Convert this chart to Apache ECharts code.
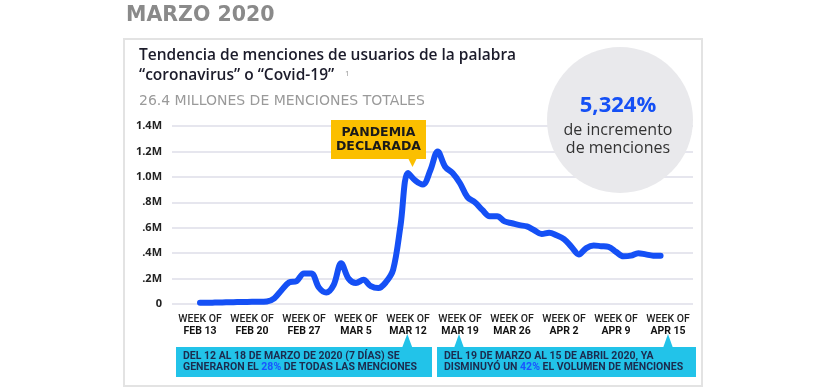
<!DOCTYPE html>
<html>
<head>
<meta charset="utf-8">
<script src="https://cdn.jsdelivr.net/npm/echarts@6/dist/echarts.min.js"></script>
<style>html,body{margin:0;padding:0;background:#fff;}#c{width:838px;height:390px;}</style>
</head>
<body>
<div id="c"></div>
<script>
// ---- data ----
const weekLabels = ['FEB 13','FEB 20','FEB 27','MAR 5','MAR 12','MAR 19','MAR 26','APR 2','APR 9','APR 15'];
const yTickLabels = ['0', '.2M', '.4M', '.6M', '.8M', '1.0M', '1.2M', '1.4M'];
// daily mentions (millions), Feb 13 -> Apr 15
const dailyMentionsM = [
  0.010, 0.010, 0.011, 0.012, 0.014, 0.015, 0.016,
  0.017, 0.017, 0.020, 0.045, 0.110, 0.170, 0.180,
  0.240, 0.240, 0.130, 0.090, 0.150, 0.320, 0.200,
  0.165, 0.190, 0.140, 0.125, 0.170, 0.270, 0.620,
  1.030, 0.970, 0.940, 1.050, 1.200, 1.080, 1.030,
  0.950, 0.840, 0.800, 0.740, 0.690, 0.690, 0.650,
  0.635, 0.620, 0.610, 0.580, 0.550, 0.560, 0.540,
  0.510, 0.450, 0.390, 0.440, 0.460, 0.455, 0.450,
  0.410, 0.375, 0.380, 0.400, 0.390, 0.380, 0.380
];
const headline = 'MARZO 2020';
const titleLines = ['Tendencia de menciones de usuarios de la palabra', '“coronavirus” o “Covid-19”'];
const footnoteMark = '1';
const subtitle = '26.4 MILLONES DE MENCIONES TOTALES';
const bigStat = '5,324%';
const statLines = ['de incremento', 'de menciones'];
const noteLeft = ['DEL 12 AL 18 DE MARZO DE 2020 (7 DÍAS) SE', 'GENERARON EL ', '28%', ' DE TODAS LAS MENCIONES'];
const noteRight = ['DEL 19 DE MARZO AL 15 DE ABRIL 2020, YA', 'DISMINUYÓ UN ', '42%', ' EL VOLUMEN DE MENCIONES'];

// ---- build ----
const stepDays = 7;
const nCats = (weekLabels.length - 1) * stepDays + 1;
const cats = Array.from({length: nCats}, (_, i) => 'd' + i);
const BLUE = '#1550f5';
const sans = "'Open Sans','Roboto',sans-serif";
const cond = "'Roboto',sans-serif";
const wide = "'DejaVu Sans','Open Sans',sans-serif";

const noteRich = {
  t: {fill: '#1c2b4e', font: 'bold 10.5px ' + cond, lineHeight: 11},
  h: {fill: '#1a55ff', font: 'bold 10.5px ' + cond, lineHeight: 11}
};

const chart = echarts.init(document.getElementById('c'));
chart.setOption({
  backgroundColor: '#ffffff',
  animation: false,
  grid: [
    {left: 172, right: 145, top: 126, bottom: 86},
    {left: 200, right: 170, top: 126, bottom: 86}
  ],
  xAxis: [
    {gridIndex: 0, type: 'value', min: 0, max: 1, show: false},
    {
      gridIndex: 1, type: 'category', data: cats, boundaryGap: false,
      axisLine: {show: false}, axisTick: {show: false}, splitLine: {show: false},
      axisLabel: {
        interval: stepDays - 1, margin: 9,
        formatter: (v, idx) => idx % stepDays === 0 ? '{a|WEEK OF}\n{b|' + weekLabels[idx / stepDays] + '}' : '',
        rich: {
          a: {fontFamily: cond, fontSize: 10.5, color: '#222', fontWeight: 500, lineHeight: 12},
          b: {fontFamily: cond, fontSize: 10.5, color: '#111', fontWeight: 'bold', lineHeight: 12}
        }
      }
    }
  ],
  yAxis: [
    {
      gridIndex: 0, type: 'value', min: 0, max: 1.4, interval: 0.2,
      axisLine: {show: false}, axisTick: {show: false},
      splitLine: {lineStyle: {color: '#dedee8', width: 1.5}},
      axisLabel: {
        margin: 10, color: '#222', fontWeight: 'bold', fontSize: 11, fontFamily: sans,
        formatter: (v) => yTickLabels[Math.round(v / 0.2)]
      }
    },
    {gridIndex: 1, type: 'value', min: 0, max: 1.4, show: false}
  ],
  series: [{
    type: 'line', xAxisIndex: 1, yAxisIndex: 1, data: dailyMentionsM,
    smooth: 0.35, showSymbol: false, symbol: 'none',
    lineStyle: {color: BLUE, width: 6, cap: 'round', join: 'round'},
    z: 5
  }],
  graphic: [
    {type: 'text', left: 126, top: 5, style: {text: headline, fill: '#8a8a8a', font: 'bold 20.5px ' + wide}},
    {type: 'rect', shape: {x: 124, y: 39, width: 578, height: 347}, style: {fill: 'none', stroke: '#e3e3e3', lineWidth: 2}, z: -1},
    {type: 'text', left: 139, top: 48, style: {text: titleLines[0], fill: '#1b1b2a', font: '600 15.5px ' + sans}},
    {type: 'text', left: 139, top: 68, style: {text: titleLines[1], fill: '#1b1b2a', font: '600 15.5px ' + sans}},
    {type: 'text', left: 345, top: 70, style: {text: footnoteMark, fill: '#999', font: '8px ' + sans}},
    {type: 'text', left: 139, top: 94, style: {text: subtitle, fill: '#9a9a9a', font: '14px ' + wide}},
    {type: 'circle', shape: {cx: 620, cy: 120, r: 73}, style: {fill: '#e9e9ec'}, z: 10},
    {type: 'text', x: 618, y: 106, style: {text: bigStat, fill: BLUE, font: 'bold 22px ' + sans, align: 'center', verticalAlign: 'middle'}, z: 11},
    {type: 'text', x: 618, y: 130, style: {text: statLines[0], fill: '#333', font: '16px ' + sans, align: 'center', verticalAlign: 'middle'}, z: 11},
    {type: 'text', x: 618, y: 148, style: {text: statLines[1], fill: '#333', font: '16px ' + sans, align: 'center', verticalAlign: 'middle'}, z: 11},
    // pandemic label
    {type: 'rect', shape: {x: 331, y: 120, width: 95, height: 39}, style: {fill: '#fbbf00'}, z: 12},
    {type: 'polygon', shape: {points: [[408, 158], [417, 158], [412.5, 167]]}, style: {fill: '#fbbf00'}, z: 12},
    {type: 'text', x: 378.5, y: 133, style: {text: 'PANDEMIA', fill: '#1a1a1a', font: 'bold 12.5px ' + wide, align: 'center', verticalAlign: 'middle'}, z: 13},
    {type: 'text', x: 378.5, y: 147, style: {text: 'DECLARADA', fill: '#1a1a1a', font: 'bold 12.5px ' + wide, align: 'center', verticalAlign: 'middle'}, z: 13},
    // note boxes
    {type: 'rect', shape: {x: 176, y: 347, width: 256, height: 30}, style: {fill: '#22c3e9'}},
    {type: 'polygon', shape: {points: [[402, 348], [412.5, 348], [407.3, 334]]}, style: {fill: '#22c3e9'}},
    {type: 'text', x: 183, y: 351, style: {
      text: '{t|' + noteLeft[0] + '}\n{t|' + noteLeft[1] + '}{h|' + noteLeft[2] + '}{t|' + noteLeft[3] + '}',
      verticalAlign: 'top', rich: noteRich
    }, z: 3},
    {type: 'rect', shape: {x: 437, y: 347, width: 259, height: 30}, style: {fill: '#22c3e9'}},
    {type: 'polygon', shape: {points: [[454, 348], [464, 348], [459, 334]]}, style: {fill: '#22c3e9'}},
    {type: 'polygon', shape: {points: [[663, 348], [673, 348], [668, 334]]}, style: {fill: '#22c3e9'}},
    {type: 'text', x: 444, y: 351, style: {
      text: '{t|' + noteRight[0] + '}\n{t|' + noteRight[1] + '}{h|' + noteRight[2] + '}{t|' + noteRight[3] + '}',
      verticalAlign: 'top', rich: noteRich
    }, z: 3}
  ]
});
</script>
</body>
</html>
